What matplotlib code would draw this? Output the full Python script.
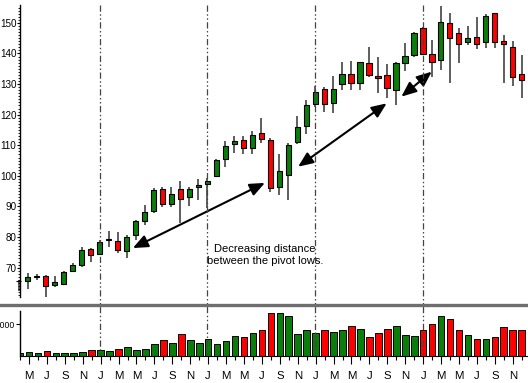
import matplotlib
matplotlib.use("Agg")
import matplotlib.pyplot as plt
import numpy as np
from matplotlib.patches import FancyArrowPatch
from matplotlib.lines import Line2D
import matplotlib.transforms as mtransforms

plt.rcParams['font.family'] = ['Liberation Sans', 'DejaVu Sans']

# Monthly OHLC, Apr (year 1) .. Dec (year 5)
opens = [65.5, 65.5, 67.0, 67.2, 64.4, 64.6, 68.8, 70.9, 76.0,
         74.5, 79.0, 78.7, 75.4, 80.6, 85.4, 88.6, 95.6, 90.8, 95.6, 93.2, 96.2,
         97.4, 100.0, 105.4, 110.5, 111.6, 109.2, 114.1, 111.6, 96.3, 100.3, 111.2, 116.3,
         123.6, 128.5, 123.9, 129.9, 133.4, 130.3, 137.0, 132.6, 132.9, 128.0, 136.8, 139.4,
         148.2, 139.8, 137.8, 150.1, 146.6, 143.7, 145.4, 143.7, 153.1, 144.0, 142.0, 133.2]
highs = [66.0, 68.3, 68.0, 67.6, 67.3, 69.0, 71.5, 76.7, 76.4,
         79.0, 82.0, 81.7, 80.7, 85.6, 90.5, 96.0, 96.5, 96.5, 98.3, 96.5, 99.0,
         99.2, 105.6, 111.4, 113.0, 113.1, 114.7, 119.0, 112.3, 107.0, 110.6, 119.7, 124.8,
         129.4, 129.0, 132.6, 137.3, 137.6, 137.3, 142.2, 138.7, 136.5, 137.3, 143.3, 147.1,
         148.6, 144.4, 155.5, 153.1, 148.4, 149.0, 151.8, 152.9, 153.3, 146.0, 144.1, 139.5]
lows = [62.5, 63.0, 66.0, 60.5, 63.8, 64.3, 68.5, 70.1, 72.0,
        74.0, 76.9, 74.9, 73.0, 79.0, 84.0, 88.0, 89.9, 89.9, 84.5, 90.2, 92.0,
        89.5, 99.5, 103.0, 107.6, 107.0, 107.0, 110.8, 94.8, 93.8, 92.1, 110.3, 113.6,
        122.6, 121.0, 120.7, 128.0, 128.0, 128.0, 132.2, 127.0, 125.4, 123.2, 134.4, 138.7,
        139.5, 132.4, 134.6, 130.3, 136.8, 142.8, 141.4, 141.9, 141.9, 130.3, 129.5, 125.4]
closes = [65.5, 67.0, 67.0, 64.1, 65.2, 68.5, 70.8, 75.8, 74.0,
          78.3, 79.2, 75.7, 79.9, 85.3, 88.1, 95.3, 90.7, 94.2, 92.4, 95.6, 97.0,
          98.2, 105.2, 109.8, 111.4, 109.2, 113.3, 112.0, 96.0, 101.5, 110.0, 116.0, 123.1,
          127.3, 123.6, 128.3, 133.2, 130.5, 137.1, 133.0, 132.0, 128.8, 137.0, 139.2, 146.8,
          139.8, 137.3, 150.4, 145.2, 143.0, 145.1, 143.2, 152.2, 143.7, 143.0, 132.2, 131.2]
volumes = [860, 1180, 860, 1500, 860, 1080, 860, 1400, 1900,
           2030, 1590, 2130, 2870, 2030, 2350, 3630, 5100, 4040, 6900, 4900, 4040,
           5310, 3720, 4570, 6170, 5850, 7220, 8080, 13500, 13500, 12640, 7010, 8080,
           7220, 8290, 7540, 8080, 9350, 8400, 5960, 7220, 8500, 9460, 6490, 6170,
           8080, 10000, 12640, 11690, 8290, 6490, 5310, 5310, 5850, 9140, 8080, 8290]
# first letter of each month, Apr (year 1) .. Dec (year 5)
month_letters = (["A", "M", "J", "J", "A", "S", "O", "N", "D"]
                 + ["J", "F", "M", "A", "M", "J", "J", "A", "S", "O", "N", "D"] * 4)
year_starts = [9, 21, 33, 45]
price_ticks = [70, 80, 90, 100, 110, 120, 130, 140, 150]
vol_ticks = [10000]
# pivot-low arrows (data coords)
arrows = [((12.7, 76.4), (27.4, 97.7)),
          ((31.1, 103.0), (40.96, 123.7)),
          ((42.6, 125.9), (45.98, 134.05))]
note = "Decreasing distance\nbetween the pivot lows."

GREEN = "#0a7d0a"
RED = "#ff0000"

W, H = 528, 383
fig = plt.figure(figsize=(W / 100, H / 100), dpi=100)

def ax_rect(x0, y0, x1, y1):
    return [x0 / W, 1 - y1 / H, (x1 - x0) / W, (y1 - y0) / H]

ax = fig.add_axes(ax_rect(20, 5, 528, 297))
axv = fig.add_axes(ax_rect(20, 311, 528, 356))

n = len(opens)
x = np.arange(n)
o = np.array(opens); c = np.array(closes); h = np.array(highs); l = np.array(lows)
up = c >= o
cols = [GREEN if u else RED for u in up]

xlim = (0.134, 56.7)
ylim = (60.4, 155.85)

# wicks
ax.vlines(x, l, h, color="#333333", lw=1.1, zorder=1, clip_on=False)
# bodies
bottoms = np.minimum(o, c)
heights = np.maximum(np.abs(c - o), 0.25)
ax.bar(x, heights, bottom=bottoms, width=0.58, color=cols, edgecolor="black",
       linewidth=0.8, zorder=2, clip_on=False)

ax.set_xlim(*xlim)
ax.set_ylim(*ylim)
for s in ["top", "right", "bottom"]:
    ax.spines[s].set_visible(False)
ax.spines["left"].set_linewidth(1.0)
ax.set_xticks([])
ax.set_yticks(price_ticks)
ax.set_yticklabels([str(t) for t in price_ticks], fontsize=7.1)
ax.set_yticks(np.arange(61, 156, 1), minor=True)
ax.tick_params(axis="y", which="major", length=2.2, width=0.8, pad=0.4, direction="out")
ax.tick_params(axis="y", which="minor", length=1.6, width=0.6, direction="out")

# arrows
for (p0, p1) in arrows:
    arr = FancyArrowPatch(p0, p1, arrowstyle="<|-|>,head_length=9,head_width=3.8",
                          color="black", lw=1.5, shrinkA=0, shrinkB=0, zorder=5)
    ax.add_patch(arr)

ax.text(27.4, 74.2, note, ha="center", va="center", fontsize=8.0,
        family=["Liberation Sans Narrow", "Liberation Sans", "DejaVu Sans"],
        linespacing=1.2, zorder=6)

# volume
axv.bar(x, volumes, width=0.74, color=cols, edgecolor="black", linewidth=0.7, zorder=2)
axv.set_xlim(*xlim)
axv.set_ylim(0, 14100)
for s in ["top", "right"]:
    axv.spines[s].set_visible(False)
axv.spines["left"].set_linewidth(1.0)
axv.spines["bottom"].set_linewidth(0.8)
axv.set_yticks(vol_ticks)
axv.set_yticklabels([str(t) for t in vol_ticks], fontsize=6.2)
axv.tick_params(axis="y", length=3, width=0.8, pad=1)
major_idx = [i for i in range(n) if ((i + 3) % 12 + 1) % 2 == 1]
minor_idx = [i for i in range(n) if i not in major_idx]
axv.set_xticks(major_idx)
axv.set_xticklabels([month_letters[i] for i in major_idx], fontsize=8.2)
axv.set_xticks(minor_idx, minor=True)
axv.tick_params(axis="x", which="major", length=6, width=0.8, pad=5)
axv.tick_params(axis="x", which="minor", length=3, width=0.8)

# separator between panels
fig.add_artist(Line2D([0, 1], [1 - 305 / H, 1 - 305 / H], transform=fig.transFigure,
                      color="#6e6e6e", lw=2.4))

# year separators spanning both panels
trans = mtransforms.blended_transform_factory(ax.transData, fig.transFigure)
for ys in year_starts:
    fig.add_artist(Line2D([ys, ys], [1 - 5 / H, 1 - 356 / H], transform=trans,
                          color="#444444", lw=0.9,
                          dashes=(5, 2, 1.2, 2, 1.2, 2), zorder=0.5))

fig.savefig("out.png", dpi=100)
